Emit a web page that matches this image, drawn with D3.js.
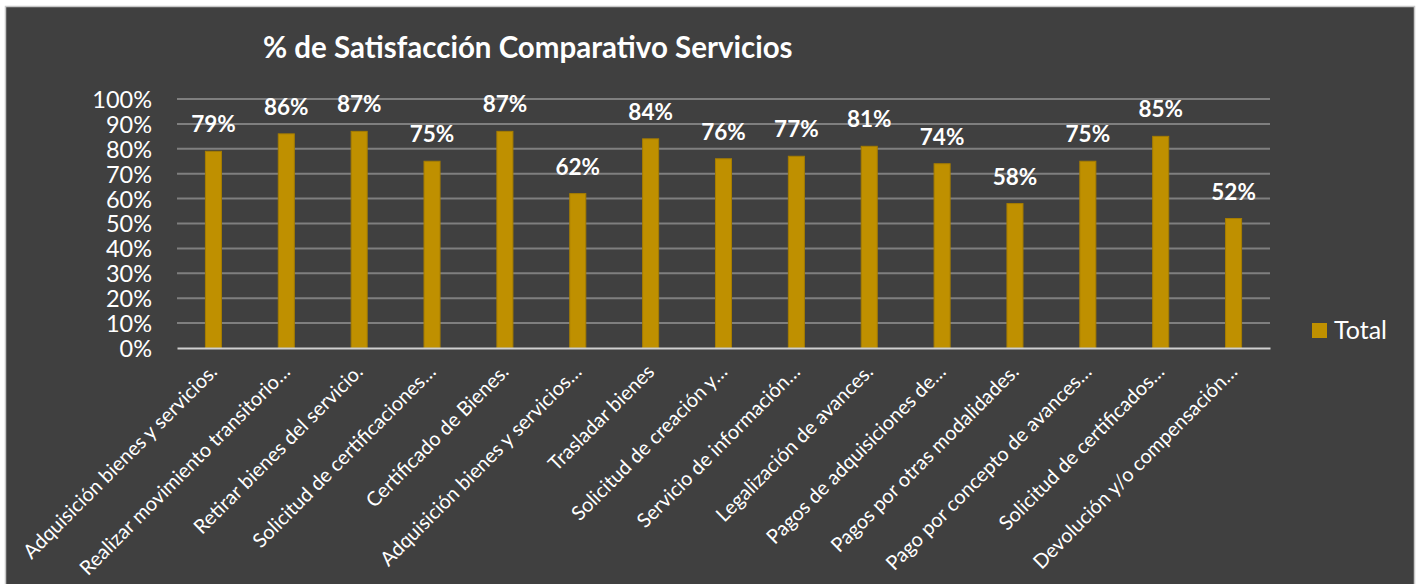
<!DOCTYPE html>
<html>
<head>
<meta charset="utf-8">
<script src="https://cdn.jsdelivr.net/npm/d3@7"></script>
<style>
  body { margin: 0; background: #ffffff; }
  text { font-family: Lato, "Open Sans", sans-serif; fill: #ffffff; }
</style>
</head>
<body>
<script>
// chart data
var categories = [
    'Adquisición bienes y servicios.',
    'Realizar movimiento transitorio…',
    'Retirar bienes del servicio.',
    'Solicitud de certificaciones…',
    'Certificado de Bienes.',
    'Adquisición bienes y servicios…',
    'Trasladar bienes',
    'Solicitud de creación y…',
    'Servicio de información…',
    'Legalización de avances.',
    'Pagos de adquisiciones de…',
    'Pagos por otras modalidades.',
    'Pago por concepto de avances…',
    'Solicitud de certificados…',
    'Devolución y/o compensación…'
];
var totals = [0.79, 0.86, 0.87, 0.75, 0.87, 0.62, 0.84, 0.76, 0.77, 0.81, 0.74, 0.58, 0.75, 0.85, 0.52];
var yTicks = [0, 0.1, 0.2, 0.3, 0.4, 0.5, 0.6, 0.7, 0.8, 0.9, 1];
var seriesName = 'Total';

window.onload = function () {
    var w = 1421,
        h = 584;
    var barColor = '#bf9000';

    var svg = d3.select('body')
        .append('svg')
        .attr('width', w)
        .attr('height', h);

    // chart area background with light border
    svg.append('rect')
        .attr('x', 5.5)
        .attr('y', 6.5)
        .attr('width', 1409)
        .attr('height', 620)
        .style('fill', '#404040')
        .style('stroke', '#c8c8c8')
        .style('stroke-width', 1.5);

    var x = d3.scaleBand()
        .domain(categories)
        .range([177, 1270])
        .paddingInner(0.78)
        .paddingOuter(0.39);

    var y = d3.scaleLinear()
        .domain([0, 1])
        .range([348, 99]);

    // gridlines
    svg.selectAll('.grid')
        .data(yTicks.slice(1))
        .enter()
        .append('line')
        .attr('class', 'grid')
        .attr('x1', 177)
        .attr('x2', 1270)
        .attr('y1', function (d) { return y(d); })
        .attr('y2', function (d) { return y(d); })
        .style('stroke', '#7f7f7f')
        .style('stroke-width', 2);

    // y axis labels
    var yAxis = d3.axisLeft(y)
        .tickValues(yTicks)
        .tickFormat(d3.format('.0%'))
        .tickSize(0)
        .tickPadding(0);

    var yg = svg.append('g')
        .attr('transform', 'translate(152, 0)')
        .call(yAxis);
    yg.select('.domain').remove();
    yg.selectAll('text')
        .attr('dy', '0.36em')
        .style('font-size', '23.5px')
        .style('fill', '#ffffff');

    // bars
    svg.selectAll('.bar')
        .data(totals)
        .enter()
        .append('rect')
        .attr('class', 'bar')
        .attr('x', function (d, i) { return x(categories[i]); })
        .attr('width', x.bandwidth())
        .attr('y', function (d) { return y(d); })
        .attr('height', function (d) { return y(0) - y(d); })
        .style('fill', barColor)
        .style('stroke', '#a67d00')
        .style('stroke-width', 1);

    // baseline axis
    var xAxis = d3.axisBottom(x)
        .tickSize(0)
        .tickPadding(0);

    var xg = svg.append('g')
        .attr('transform', 'translate(0,' + y(0) + ')')
        .call(xAxis);
    xg.select('.domain')
        .style('stroke', '#d0d0d0')
        .style('stroke-width', 2);
    xg.selectAll('text')
        .attr('text-anchor', 'end')
        .attr('dy', 0)
        .attr('transform', 'translate(5, 25) rotate(-45)')
        .style('font-size', '20px')
        .style('fill', '#ffffff');

    // data labels
    svg.selectAll('.dlabel')
        .data(totals)
        .enter()
        .append('text')
        .attr('class', 'dlabel')
        .attr('text-anchor', 'middle')
        .attr('x', function (d, i) { return x(categories[i]) + x.bandwidth() / 2; })
        .attr('y', function (d) { return y(d) - 19; })
        .style('font-size', '22.5px')
        .style('font-weight', 'bold')
        .text(function (d) { return d3.format('.0%')(d); });

    // title
    svg.append('text')
        .attr('x', 263)
        .attr('y', 58)
        .style('font-size', '29.5px')
        .style('font-weight', 'bold')
        .text('% de Satisfacción Comparativo Servicios');

    // legend
    var legend = svg.append('g')
        .attr('transform', 'translate(1312, 323)');
    legend.append('rect')
        .attr('width', 15)
        .attr('height', 15)
        .style('fill', barColor);
    legend.append('text')
        .attr('x', 22)
        .attr('y', 16)
        .style('font-size', '25px')
        .text(seriesName);
};
</script>
</body>
</html>
